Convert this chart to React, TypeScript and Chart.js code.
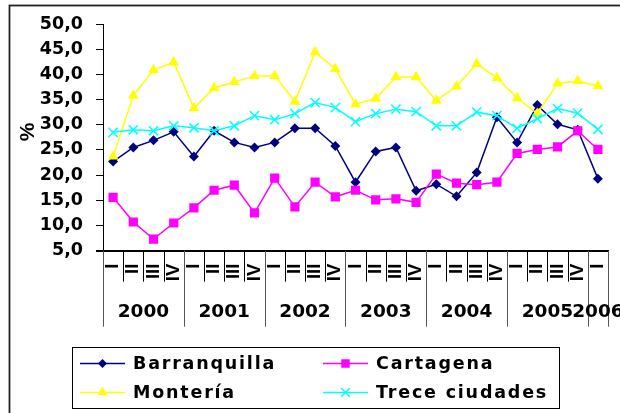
import React, { useEffect, useRef } from 'react';
import { Chart, registerables } from 'chart.js';

Chart.register(...registerables);

const quarters = ['I', 'II', 'III', 'IV', 'I', 'II', 'III', 'IV', 'I', 'II', 'III', 'IV', 'I', 'II', 'III', 'IV', 'I', 'II', 'III', 'IV', 'I', 'II', 'III', 'IV', 'I'];
const years = ['2000', '2001', '2002', '2003', '2004', '2005', '2006'];
const quartersPerYear = [4, 4, 4, 4, 4, 4, 1];
const yTicks = [5, 10, 15, 20, 25, 30, 35, 40, 45, 50];

const barranquilla = [22.7, 25.5, 26.9, 28.6, 23.7, 28.8, 26.5, 25.5, 26.5, 29.3, 29.3, 25.8, 18.6, 24.7, 25.5, 16.9, 18.2, 15.8, 20.5, 31.5, 26.5, 33.9, 30.1, 29.0, 19.3];
const cartagena = [15.6, 10.7, 7.3, 10.5, 13.5, 17.0, 18.0, 12.5, 19.4, 13.7, 18.6, 15.7, 17.0, 15.1, 15.3, 14.6, 20.2, 18.4, 18.1, 18.6, 24.3, 25.1, 25.6, 28.8, 25.1];
const monteria = [23.7, 35.8, 40.9, 42.4, 33.3, 37.3, 38.5, 39.7, 39.7, 34.6, 44.4, 41.1, 34.1, 35.2, 39.5, 39.5, 34.8, 37.6, 42.1, 39.3, 35.3, 32.2, 38.2, 38.7, 37.7];
const trece = [28.5, 29.0, 28.8, 29.8, 29.4, 28.8, 29.8, 31.8, 31.0, 32.2, 34.4, 33.4, 30.6, 32.2, 33.1, 32.6, 29.8, 29.8, 32.5, 31.8, 29.3, 31.2, 33.2, 32.3, 29.1];

const seriesNames = ['Barranquilla', 'Cartagena', 'Montería', 'Trece ciudades'];
const seriesColors = ['#000080', '#FF00FF', '#FFFF00', '#00FFFF'];
const seriesStyles = ['rectRot', 'rect', 'triangle', 'crossRot'];
const seriesRadius = [5, 6.5, 6.2, 6.5];

function drawMarker(ctx: CanvasRenderingContext2D, style: string, x: number, y: number, r: number, color: string) {
  ctx.save();
  ctx.fillStyle = color;
  ctx.strokeStyle = color;
  ctx.lineWidth = 1.5;
  ctx.beginPath();
  if (style === 'rectRot') {
    ctx.moveTo(x, y - r);
    ctx.lineTo(x + r, y);
    ctx.lineTo(x, y + r);
    ctx.lineTo(x - r, y);
    ctx.closePath();
    ctx.fill();
  } else if (style === 'rect') {
    const s = r * Math.SQRT1_2;
    ctx.rect(x - s, y - s, 2 * s, 2 * s);
    ctx.fill();
  } else if (style === 'triangle') {
    ctx.moveTo(x, y - r);
    ctx.lineTo(x + r * Math.sin(Math.PI * 2 / 3), y + r / 2);
    ctx.lineTo(x - r * Math.sin(Math.PI * 2 / 3), y + r / 2);
    ctx.closePath();
    ctx.fill();
  } else {
    const d = r * Math.SQRT1_2;
    ctx.moveTo(x - d, y - d);
    ctx.lineTo(x + d, y + d);
    ctx.moveTo(x + d, y - d);
    ctx.lineTo(x - d, y + d);
    ctx.stroke();
  }
  ctx.restore();
}

const decor = {
  id: 'decor',
  afterDraw(chart: any) {
    const { ctx, chartArea, scales } = chart;
    const xs = scales.x;
    const n = quarters.length;
    const w = xs.getPixelForValue(1) - xs.getPixelForValue(0);
    const axisY = chartArea.bottom;
    ctx.save();

    // extend x-axis line left like the reference
    ctx.beginPath();
    ctx.strokeStyle = '#000';
    ctx.lineWidth = 1;
    ctx.moveTo(96, Math.round(axisY) + 0.5);
    ctx.lineTo(chartArea.right, Math.round(axisY) + 0.5);
    ctx.stroke();

    // category separators
    const bounds = new Set<number>();
    let acc = 0;
    bounds.add(0);
    quartersPerYear.forEach((c) => { acc += c; bounds.add(acc); });
    for (let i = 0; i <= n; i++) {
      const px = Math.round(xs.getPixelForValue(i) - w / 2) + 0.5;
      ctx.beginPath();
      ctx.lineWidth = 1;
      if (bounds.has(i)) {
        ctx.strokeStyle = '#555';
        ctx.moveTo(px, axisY);
        ctx.lineTo(px, axisY + 76);
      } else {
        ctx.strokeStyle = '#000';
        ctx.moveTo(px, axisY);
        ctx.lineTo(px, axisY + 31);
      }
      ctx.stroke();
    }

    // quarter labels (rotated roman numerals)
    ctx.fillStyle = '#000';
    ctx.font = 'bold 18.5px "Liberation Sans"';
    ctx.textAlign = 'right';
    ctx.textBaseline = 'middle';
    quarters.forEach((q, i) => {
      const cx = xs.getPixelForValue(i);
      ctx.save();
      ctx.translate(cx, axisY + 13);
      ctx.rotate(-Math.PI / 2);
      ctx.fillText(q, 0, 0);
      ctx.restore();
    });

    // year labels
    ctx.font = 'bold 18.5px "DejaVu Sans"';
    ctx.textAlign = 'center';
    ctx.textBaseline = 'middle';
    let start = 0;
    years.forEach((yr, k) => {
      const c = quartersPerYear[k];
      const cx = xs.getPixelForValue(start) - w / 2 + (c * w) / 2;
      ctx.fillText(yr, cx, axisY + 61.5);
      start += c;
    });

    // y-axis title
    ctx.save();
    ctx.translate(28.5, 132);
    ctx.rotate(-Math.PI / 2);
    ctx.font = 'bold 21px "Liberation Sans"';
    ctx.textAlign = 'center';
    ctx.textBaseline = 'middle';
    ctx.fillText('%', 0, 0);
    ctx.restore();

    // legend
    ctx.strokeStyle = '#000';
    ctx.lineWidth = 1;
    ctx.strokeRect(72.5, 347.5, 487, 61);
    const cols = [80, 323];
    const rows = [363.5, 392.5];
    chart.data.datasets.forEach((ds: any, i: number) => {
      const lx = cols[i % 2];
      const ly = rows[Math.floor(i / 2)];
      ctx.beginPath();
      ctx.strokeStyle = seriesColors[i];
      ctx.lineWidth = 1.5;
      ctx.moveTo(lx, ly);
      ctx.lineTo(lx + 45, ly);
      ctx.stroke();
      drawMarker(ctx, seriesStyles[i], lx + 22.5, ly, seriesRadius[i] - 0.5, seriesColors[i]);
      ctx.fillStyle = '#000';
      ctx.font = 'bold 17.5px "DejaVu Sans"';
      ctx.textAlign = 'left';
      ctx.textBaseline = 'middle';
      (ctx as any).letterSpacing = '1.8px';
      ctx.fillText(ds.label, lx + 53, ly + 1);
      (ctx as any).letterSpacing = '0px';
    });

    // outer frame
    ctx.strokeStyle = '#222';
    ctx.lineWidth = 1.8;
    ctx.strokeRect(9.5, 5.5, 1000, 1000);
    ctx.restore();
  },
};

export default function App() {
  const ref = useRef<HTMLCanvasElement | null>(null);
  useEffect(() => {
    if (!ref.current) return;
    const allData = [barranquilla, cartagena, monteria, trece];
    const chart = new Chart(ref.current, {
      type: 'line',
      data: {
        labels: quarters,
        datasets: allData.map((d, i) => ({
          label: seriesNames[i],
          data: d,
          borderColor: seriesColors[i],
          backgroundColor: seriesColors[i],
          pointBackgroundColor: seriesColors[i],
          pointBorderColor: seriesColors[i],
          pointStyle: seriesStyles[i] as any,
          pointRadius: seriesRadius[i],
          pointBorderWidth: seriesStyles[i] === 'crossRot' ? 1.5 : 0,
          borderWidth: 1.5,
          tension: 0,
          fill: false,
          order: 3 - i,
        })),
      },
      options: {
        animation: false,
        responsive: false,
        events: [],
        layout: { padding: { left: 0, right: 12, top: 24, bottom: 0 } },
        plugins: { legend: { display: false }, tooltip: { enabled: false } },
        scales: {
          x: {
            type: 'category',
            offset: true,
            grid: { display: false, drawTicks: false },
            border: { display: true, color: '#000', width: 1 },
            ticks: { display: false, autoSkip: false },
            afterFit: (s: any) => { s.height = 162.3; },
          },
          y: {
            min: yTicks[0],
            max: yTicks[yTicks.length - 1],
            afterBuildTicks: (s: any) => { s.ticks = yTicks.map((v) => ({ value: v })); },
            ticks: {
              padding: 13,
              color: '#000',
              font: { family: '"DejaVu Sans"', weight: 'bold', size: 17.5 },
              callback: (v: any) => Number(v).toFixed(1).replace('.', ','),
            },
            grid: { drawOnChartArea: false, drawTicks: true, tickLength: 7, color: '#000' },
            border: { display: true, color: '#000', width: 1 },
            afterFit: (s: any) => { s.width = 103; },
          },
        },
      },
      plugins: [decor],
    });
    return () => chart.destroy();
  }, []);
  return (
    <div style={{ position: 'absolute', left: 0, top: 0, width: 620, height: 413, background: '#fff' }}>
      <canvas ref={ref} width={620} height={413} />
    </div>
  );
}
